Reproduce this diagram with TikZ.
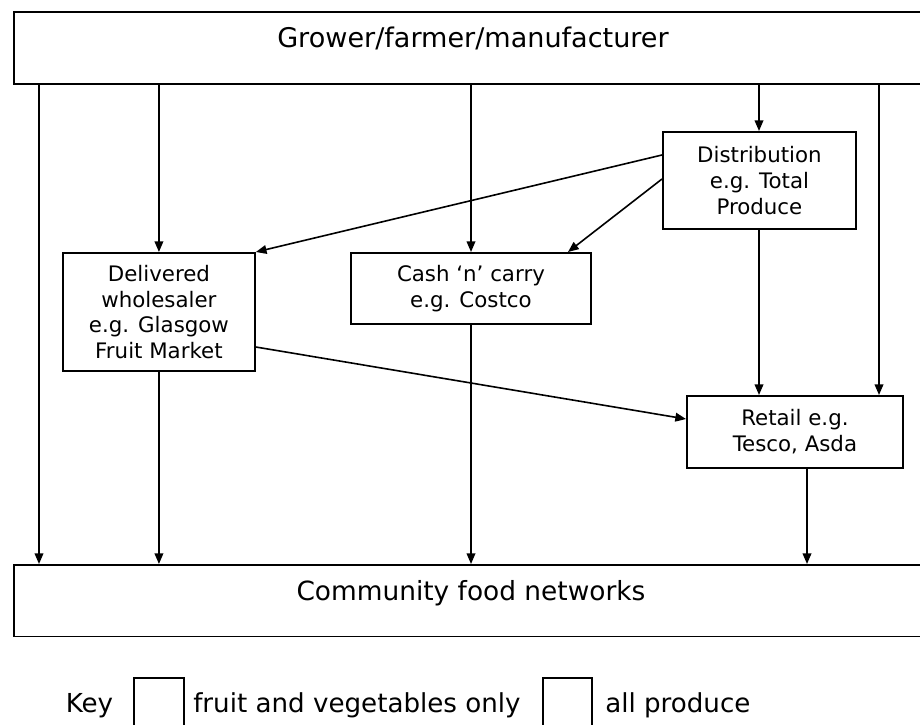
\documentclass[tikz,border=0pt]{standalone}
\usepackage{fontspec}
\setmainfont{DejaVu Sans}
\usetikzlibrary{arrows.meta}
\begin{document}
\begin{tikzpicture}[x=0.75pt,y=-0.75pt,
  box/.style={draw=black,line width=1.4pt,rectangle,inner sep=0pt,align=center,
    font=\fontsize{16pt}{19.3pt}\selectfont},
  bigtext/.style={font=\fontsize{19.6pt}{23pt}\selectfont,inner sep=0pt,anchor=base},
  keybox/.style={draw=black,line width=1.2pt,minimum height=60*0.75pt,inner sep=0pt,anchor=north west},
  conn/.style={line width=1.2pt,-{Triangle[length=8pt,width=6.5pt]}}]
\useasboundingbox (0,0) rectangle (920,724);
% big boxes
\node[box,minimum width=940*0.75pt,minimum height=72*0.75pt,anchor=north west] (top) at (13,11) {};
\node[bigtext,font=\fontsize{20.3pt}{23pt}\selectfont] (toptext) at (473,48) {Grower/farmer/manufacturer};
\node[box,minimum width=940*0.75pt,minimum height=71.5*0.75pt,anchor=north west] (comm) at (13,564) {};
\node[bigtext,font=\fontsize{19.8pt}{23pt}\selectfont] (commtext) at (471,600) {Community food networks};
% middle boxes
\node[box,minimum width=192*0.75pt,minimum height=118*0.75pt,anchor=north west] (deliv) at (62,252)
  {Delivered\\wholesaler\\e.g. Glasgow\\Fruit Market};
\node[box,minimum width=240*0.75pt,minimum height=71*0.75pt,anchor=north west] (cash) at (350,252)
  {Cash ‘n’ carry\\e.g. Costco};
\node[box,minimum width=193*0.75pt,minimum height=97*0.75pt,anchor=north west] (dist) at (662,131)
  {Distribution\\e.g. Total\\Produce};
\node[box,minimum width=216*0.75pt,minimum height=72*0.75pt,anchor=north west] (retail) at (686,395)
  {Retail e.g.\\Tesco, Asda};
% connectors from top
\draw[conn] (top.south west -| 39,0) -- (comm.north west -| 39,0);
\draw[conn] (top.south west -| deliv.north) -- (deliv.north);
\draw[conn] (top.south west -| 471,0) -- (cash.north west -| 471,0);
\draw[conn] (top.south west -| 759,0) -- (dist.north west -| 759,0);
\draw[conn] (top.south west -| 879,0) -- (retail.north west -| 879,0);
% distribution outputs
\coordinate (d1) at (dist.west |- 0,155);
\coordinate (d2) at (dist.west |- 0,179);
\draw[conn] (d1) -- (deliv.north east);
\draw[conn] (d2) -- (568,252);
\draw[conn] (dist.south west -| 759,0) -- (retail.north west -| 759,0);
% delivered to retail
\coordinate (w1) at (deliv.east |- 0,347);
\coordinate (r1) at (retail.west |- 0,419);
\draw[conn] (w1) -- (r1);
% to community
\draw[conn] (deliv.south) -- (comm.north west -| deliv.south);
\draw[conn] (cash.south west -| 471,0) -- (comm.north west -| 471,0);
\draw[conn] (retail.south west -| 807,0) -- (comm.north west -| 807,0);
% key
\node[bigtext] (keytext) at (89.5,712) {Key};
\node[keybox,minimum width=50*0.75pt] (key1) at (133,677) {};
\node[bigtext,anchor=base west] (key1text) at (193,712) {fruit and vegetables only};
\node[keybox,minimum width=49*0.75pt] (key2) at (542,677) {};
\node[bigtext,anchor=base west] (key2text) at (605,712) {all produce};
\end{tikzpicture}
\end{document}
